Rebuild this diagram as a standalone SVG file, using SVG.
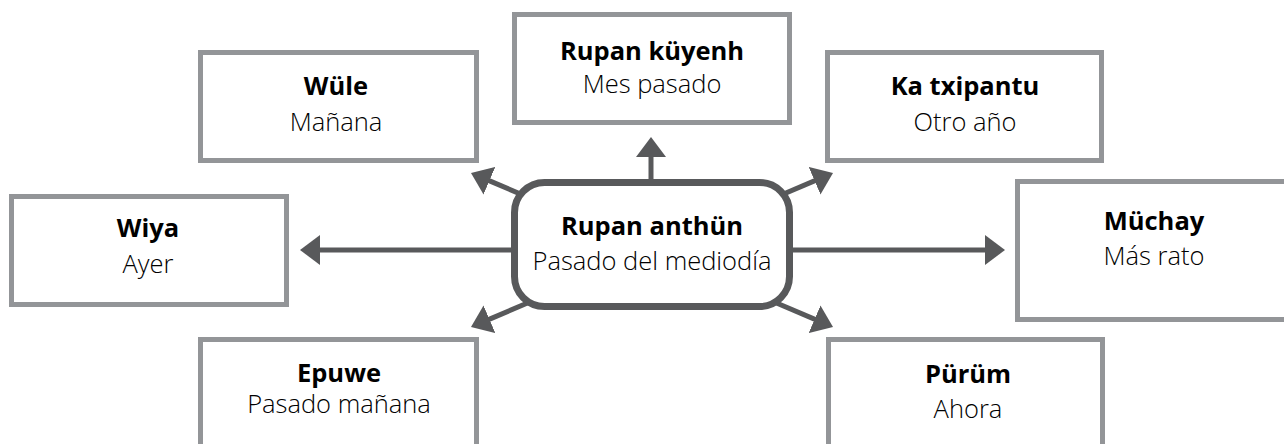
<svg xmlns="http://www.w3.org/2000/svg" width="1284" height="444" viewBox="0 0 1284 444">
<style>
.box{fill:#fff;stroke:#939598;stroke-width:5}
.hub{fill:#fff;stroke:#58595b;stroke-width:7}
.b{font-family:"Open Sans","Liberation Sans",sans-serif;font-weight:700;font-size:25.5px;fill:#000;text-anchor:middle}
.l{font-family:"Open Sans","Liberation Sans",sans-serif;font-weight:300;font-size:25.5px;fill:#000;text-anchor:middle}
.c{stroke:#58595b;stroke-width:5;fill:none;marker-end:url(#ah)}
</style>
<defs>
<marker id="ah" markerUnits="userSpaceOnUse" markerWidth="22" markerHeight="30" refX="10" refY="15" orient="auto" viewBox="0 0 22 30">
<path d="M0,0 L20,15 L0,30 Z" fill="#58595b"/>
</marker>
</defs>
<rect width="1284" height="444" fill="#fff"/>
<g id="connectors">
<line class="c" x1="651" y1="190" x2="651" y2="147"/>
<line class="c" x1="530" y1="250" x2="310" y2="250"/>
<line class="c" x1="775" y1="250" x2="995" y2="250"/>
<line class="c" x1="531" y1="198.5" x2="480.2" y2="176.9"/>
<line class="c" x1="773" y1="198.5" x2="823.8" y2="176.9"/>
<line class="c" x1="531" y1="301.5" x2="480.2" y2="323.1"/>
<line class="c" x1="773" y1="301.5" x2="823.8" y2="323.1"/>
</g>
<g id="center">
<rect class="hub" x="514.5" y="182.5" width="275" height="124" rx="30"/>
<text class="b" x="652" y="235">Rupan anthün</text>
<text class="l" x="652" y="270">Pasado del mediodía</text>
</g>
<g id="rupan-kuyenh">
<rect class="box" x="514.5" y="14.5" width="275" height="108"/>
<text class="b" x="652" y="60">Rupan küyenh</text>
<text class="l" x="652" y="93">Mes pasado</text>
</g>
<g id="wule">
<rect class="box" x="200.5" y="52.5" width="276" height="108"/>
<text class="b" x="336" y="95">Wüle</text>
<text class="l" x="336" y="131">Mañana</text>
</g>
<g id="ka-txipantu">
<rect class="box" x="827.5" y="52.5" width="274" height="108"/>
<text class="b" x="965" y="95">Ka txipantu</text>
<text class="l" x="965" y="131">Otro año</text>
</g>
<g id="wiya">
<rect class="box" x="11.5" y="196.5" width="275" height="108"/>
<text class="b" x="148" y="237">Wiya</text>
<text class="l" x="148" y="273">Ayer</text>
</g>
<g id="muchay">
<rect class="box" x="1017.5" y="181.5" width="290" height="138"/>
<text class="b" x="1154" y="230">Müchay</text>
<text class="l" x="1154" y="265">Más rato</text>
</g>
<g id="epuwe">
<rect class="box" x="200.5" y="339.5" width="276" height="120"/>
<text class="b" x="339" y="382">Epuwe</text>
<text class="l" x="339" y="413">Pasado mañana</text>
</g>
<g id="purum">
<rect class="box" x="828.5" y="339.5" width="274" height="120"/>
<text class="b" x="968" y="383">Pürüm</text>
<text class="l" x="968" y="418">Ahora</text>
</g>
</svg>
